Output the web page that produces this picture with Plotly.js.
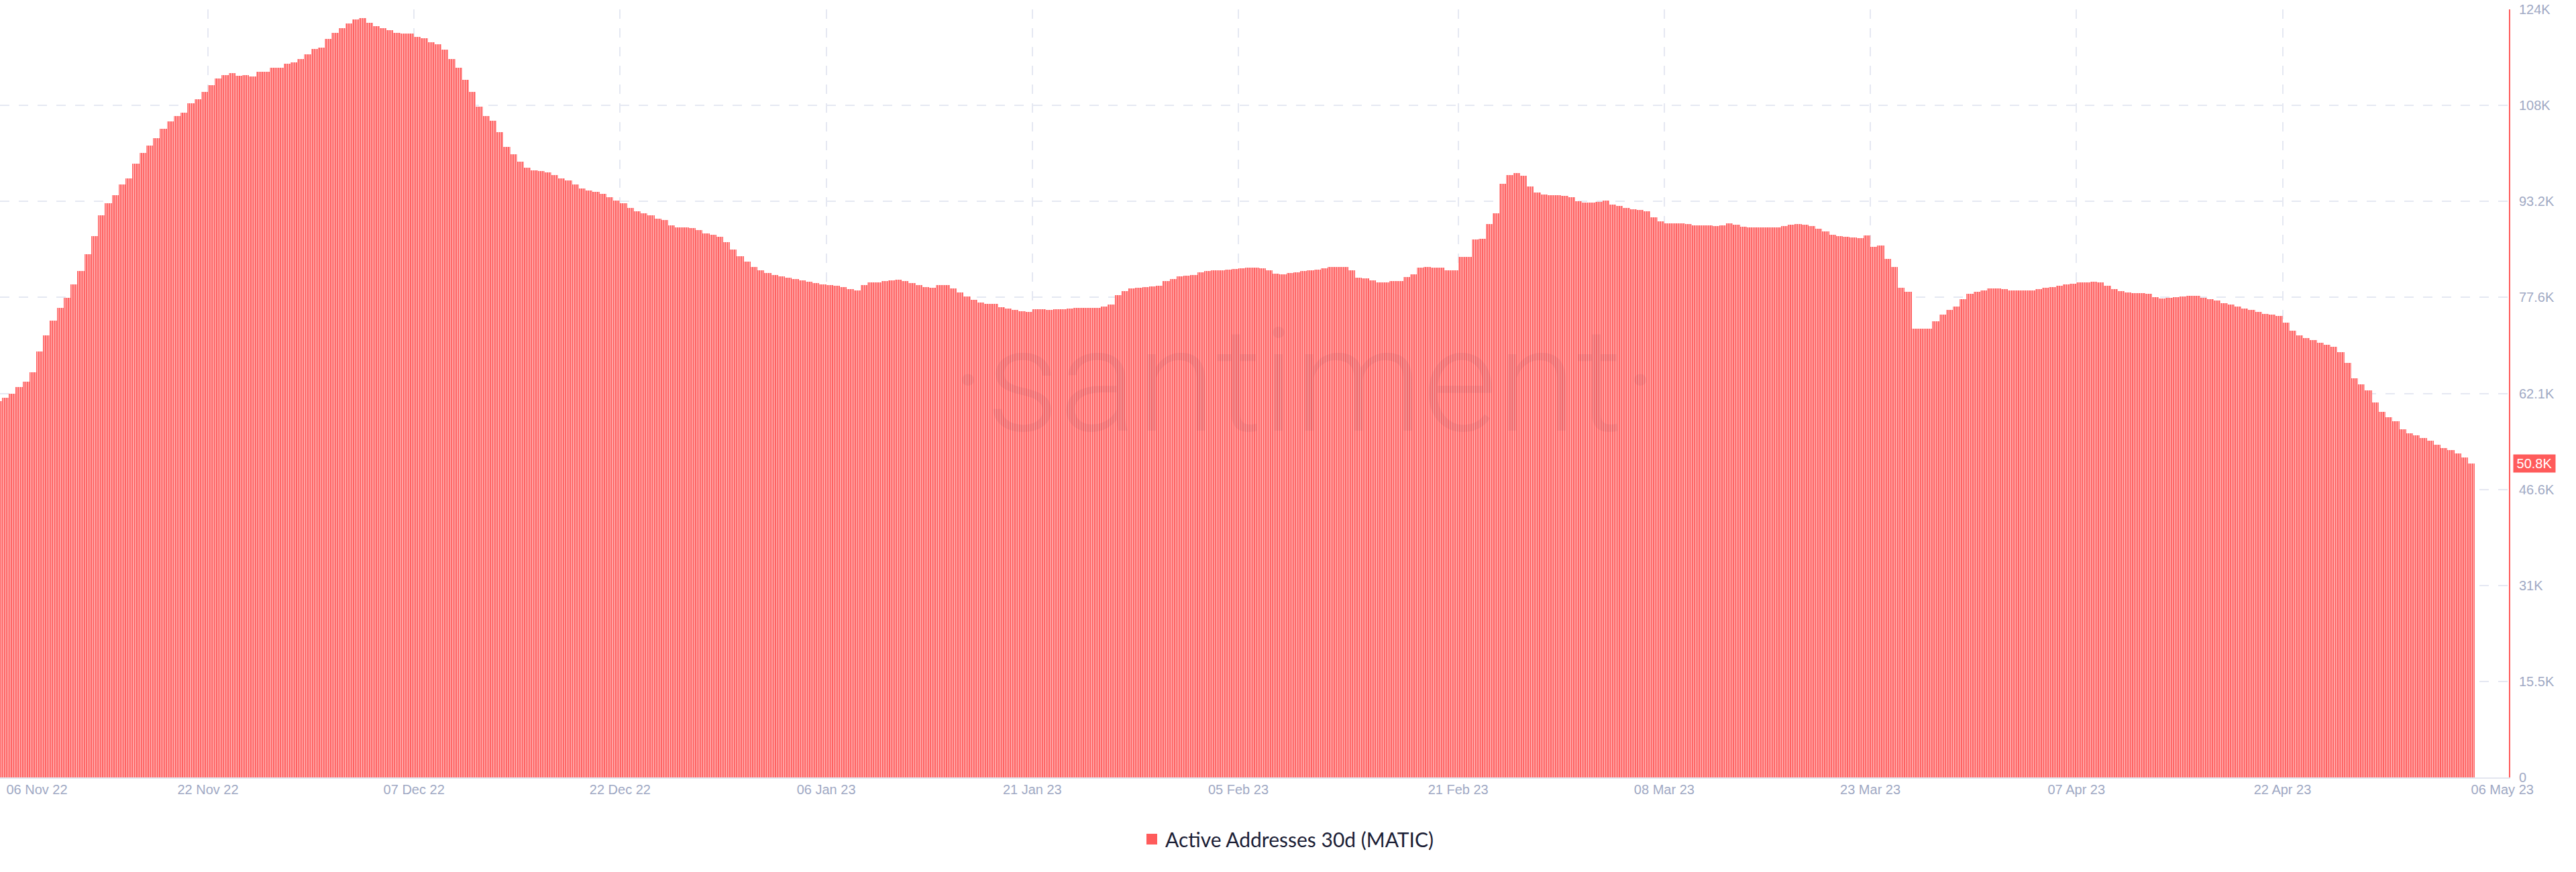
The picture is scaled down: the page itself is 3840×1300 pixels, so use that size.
<!DOCTYPE html>
<html>
<head>
<meta charset="utf-8">
<script src="https://cdn.plot.ly/plotly-3.0.1.min.js"></script>
<style>
  html, body { margin: 0; padding: 0; background: #ffffff; }
  #chart { width: 3840px; height: 1300px; }
</style>
</head>
<body>
<div id="chart"></div>
<script>
// ---- Data ----
const seriesName = 'Active Addresses 30d (MATIC)';
const startTime = '2022-11-06T00:00:00Z';   // first 12-hour bucket
const bucketHours = 12;
// Active Addresses 30d, one value per 12-hour bucket starting 06 Nov 2022 00:00
const activeAddresses30d = [
  60900, 60900, 61400, 62000, 63100, 64000, 65500, 68900, 71500, 73900,
  75900, 77600, 79700, 81900, 84600, 87500, 90900, 92800, 94200, 95900,
  96900, 99300, 101000, 102200, 103400, 104900, 106100, 106900, 107500, 109000,
  109700, 110900, 111900, 113000, 113600, 113900, 113500, 113600, 113400, 114100,
  114100, 114800, 114800, 115400, 115600, 116200, 116900, 117800, 118000, 119400,
  120400, 121200, 121900, 122600, 122800, 122000, 121500, 121200, 120800, 120400,
  120300, 120300, 119800, 119500, 118900, 118600, 117700, 116200, 114800, 112800,
  110900, 108500, 107000, 106200, 104400, 102000, 100800, 99600, 98600, 98200,
  98100, 97800, 97400, 96900, 96500, 95900, 95200, 94900, 94700, 94400,
  93800, 93300, 92800, 92100, 91600, 91200, 90900, 90400, 90100, 89300,
  89000, 88900, 88800, 88500, 88000, 87800, 87400, 86600, 85400, 84300,
  83400, 82500, 82000, 81600, 81300, 81000, 80800, 80600, 80400, 80200,
  79900, 79700, 79600, 79500, 79300, 79000, 78700, 79600, 80000, 80100,
  80300, 80400, 80500, 80300, 79900, 79600, 79300, 79200, 79600, 79600,
  79100, 78400, 77800, 77200, 76800, 76600, 76600, 76000, 75850, 75600,
  75400, 75300, 75700, 75700, 75600, 75700, 75700, 75800, 75900, 75900,
  75900, 75900, 76200, 76500, 78000, 78600, 79100, 79200, 79300, 79400,
  79500, 80300, 80600, 81000, 81100, 81300, 81700, 81900, 82000, 82000,
  82100, 82200, 82300, 82400, 82400, 82300, 82000, 81500, 81400, 81600,
  81700, 81900, 82000, 82100, 82300, 82500, 82600, 82600, 82000, 80800,
  80700, 80400, 80100, 80100, 80300, 80300, 80900, 81400, 82400, 82600,
  82400, 82400, 82000, 82000, 84200, 84200, 87000, 87100, 89500, 91200,
  96000, 97400, 97700, 97300, 95600, 94600, 94300, 94200, 94200, 94000,
  93800, 93200, 93000, 93000, 93100, 93300, 92600, 92400, 92100, 91900,
  91800, 91600, 90600, 89900, 89600, 89600, 89600, 89500, 89300, 89300,
  89300, 89200, 89300, 89600, 89400, 89100, 89000, 89000, 88900, 88900,
  88900, 89200, 89400, 89500, 89400, 89200, 88700, 88300, 87800, 87500,
  87400, 87300, 87200, 87600, 85800, 86000, 83800, 82500, 79200, 78500,
  72600, 72600, 72600, 73800, 74900, 75600, 76200, 77300, 78200, 78500,
  78800, 79100, 79100, 79000, 78800, 78700, 78700, 78800, 79000, 79200,
  79300, 79500, 79700, 79800, 80000, 80100, 80200, 80100, 79500, 79000,
  78600, 78400, 78300, 78300, 78200, 77700, 77500, 77600, 77700, 77800,
  77900, 77900, 77600, 77300, 77100, 76700, 76500, 76200, 75800, 75600,
  75300, 75000, 74900, 74600, 73500, 72200, 71500, 71000, 70700, 70300,
  70000, 69600, 68800, 67000, 64500, 63600, 62600, 60600, 59100, 58300,
  57600, 56300, 55700, 55300, 54900, 54400, 53800, 53300, 52900, 52400,
  51700, 50800
];

// y axis ticks
const yTickVals = [0, 15525, 31050, 46575, 62100, 77625, 93150, 108675, 124200];
const yTickText = ['0', '15.5K', '31K', '46.6K', '62.1K', '77.6K', '93.2K', '108K', '124K'];

// x axis: grid positions and label positions / texts
const xRange = ['2022-11-06 20:44', '2023-05-08 11:30'];
const xGridDates = ['2022-11-06 21:00', '2022-11-22', '2022-12-07', '2022-12-22', '2023-01-06',
  '2023-01-21', '2023-02-05', '2023-02-21', '2023-03-08', '2023-03-23', '2023-04-07', '2023-04-22'];
const xLabelDates = ['2022-11-09 13:12', '2022-11-22', '2022-12-07', '2022-12-22', '2023-01-06',
  '2023-01-21', '2023-02-05', '2023-02-21', '2023-03-08', '2023-03-23', '2023-04-07', '2023-04-22',
  '2023-05-08 00:00'];
const xLabelText = ['06 Nov 22', '22 Nov 22', '07 Dec 22', '22 Dec 22', '06 Jan 23', '21 Jan 23',
  '05 Feb 23', '21 Feb 23', '08 Mar 23', '23 Mar 23', '07 Apr 23', '22 Apr 23', '06 May 23'];

// ---- Build ----
const BUCKET = bucketHours * 3600000;
const t0 = new Date(startTime).getTime();
const xTimes = activeAddresses30d.map((_, i) => {
  const d = new Date(t0 + i * BUCKET);
  return d.toISOString().slice(0, 19).replace('T', ' ');
});

const RED = '#ff5b5b';
const gridColor = '#e5e8f2';
const tickColor = '#9fa9c4';
const tickFont = { family: '"Liberation Sans", Arial, Helvetica, sans-serif', size: 20, color: tickColor };

const lastVal = activeAddresses30d[activeAddresses30d.length - 1];

const traces = [
  {
    type: 'bar',
    x: xTimes,
    y: activeAddresses30d,
    offset: 0,
    width: BUCKET,
    name: seriesName,
    showlegend: false,
    hoverinfo: 'x+y',
    marker: {
      color: RED,
      line: { width: 0 },
      pattern: { shape: '|', size: 3.4, solidity: 0.3, fgcolor: '#ffe2e2', bgcolor: RED, fillmode: 'replace' }
    },
    xaxis: 'x',
    yaxis: 'y'
  },
  {
    type: 'scatter',
    mode: 'markers',
    x: [null],
    y: [null],
    name: seriesName,
    showlegend: true,
    marker: { symbol: 'square', size: 18, color: RED },
    xaxis: 'x2',
    yaxis: 'y'
  }
];

const layout = {
  width: 3840,
  height: 1300,
  margin: { l: 0, r: 100, t: 14, b: 141, pad: 0 },
  paper_bgcolor: '#ffffff',
  plot_bgcolor: '#ffffff',
  bargap: 0,
  showlegend: true,
  legend: {
    orientation: 'h',
    xref: 'container', yref: 'container',
    x: 0.5, y: 0.0377,
    xanchor: 'center', yanchor: 'middle',
    font: { family: 'Lato, "Open Sans", sans-serif', size: 30, color: '#1b2036' },
    bgcolor: 'rgba(0,0,0,0)'
  },
  xaxis: {
    type: 'date',
    range: xRange,
    tickmode: 'array',
    tickvals: xGridDates,
    showticklabels: false,
    ticks: '',
    showgrid: true,
    gridcolor: gridColor,
    gridwidth: 2,
    griddash: '14px,14px',
    showline: true,
    linecolor: '#e3e6ef',
    linewidth: 2,
    zeroline: false,
    fixedrange: true
  },
  xaxis2: {
    type: 'date',
    overlaying: 'x',
    anchor: 'y',
    side: 'bottom',
    range: xRange,
    tickmode: 'array',
    tickvals: xLabelDates,
    ticktext: xLabelText,
    ticks: '',
    showgrid: false,
    showline: false,
    zeroline: false,
    tickfont: tickFont,
    ticklabelstandoff: 4,
    fixedrange: true
  },
  yaxis: {
    side: 'right',
    range: [0, 124200],
    tickmode: 'array',
    tickvals: yTickVals,
    ticktext: yTickText,
    ticks: '',
    showgrid: true,
    gridcolor: gridColor,
    gridwidth: 2,
    griddash: '14px,14px',
    showline: true,
    linecolor: RED,
    linewidth: 2,
    zeroline: false,
    tickfont: tickFont,
    ticklabelstandoff: 9,
    fixedrange: true
  },
  annotations: [
    {
      text: '·santiment·',
      xref: 'paper', yref: 'paper',
      x: 0.5198, y: 0.516,
      xanchor: 'center', yanchor: 'middle',
      showarrow: false,
      font: { family: 'Roboto, Lato, sans-serif', size: 215, color: 'rgba(80,40,70,0.07)', weight: 300 }
    },
    {
      text: (lastVal / 1000).toFixed(1) + 'K',
      xref: 'paper', yref: 'y',
      x: 1, y: lastVal,
      xanchor: 'left', yanchor: 'middle',
      xshift: 6,
      showarrow: false,
      width: 62, height: 26,
      bgcolor: RED,
      borderpad: 0,
      font: { family: '"Liberation Sans", Arial, sans-serif', size: 20, color: '#ffffff' }
    }
  ]
};

Plotly.newPlot('chart', traces, layout, { displayModeBar: false, staticPlot: true });
</script>
</body>
</html>
